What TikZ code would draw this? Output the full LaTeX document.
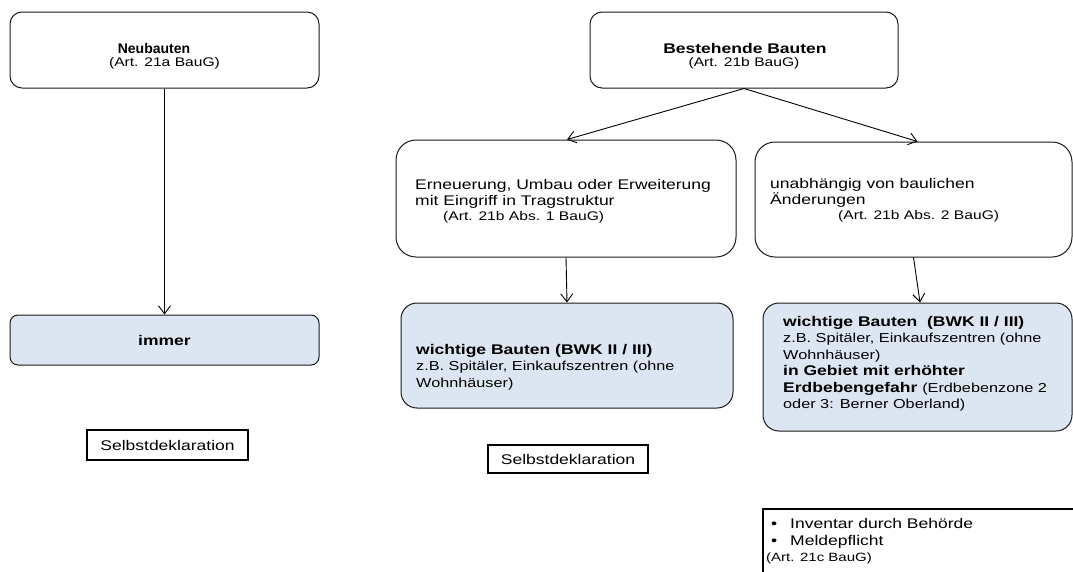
\documentclass[tikz,border=0pt]{standalone}
\usepackage{fontspec}
\setmainfont{Liberation Sans}[FakeStretch=1.25]
\usetikzlibrary{arrows.meta}
\definecolor{boxfill}{RGB}{220,230,242}
\definecolor{edge}{RGB}{25,25,25}
\newcommand\fa{\fontsize{14}{16.5}\selectfont}
\newcommand\fb{\fontsize{12.5}{14}\selectfont}
\newcommand\fc{\fontsize{13}{16}\selectfont}
\begin{document}
\begin{tikzpicture}[x=1pt,y=-1pt,
  box/.style={draw=edge, line width=1pt, inner sep=0pt},
  bluebox/.style={box, fill=boxfill},
  tagbox/.style={draw=black, line width=2.2pt, inner sep=0pt, font=\fa},
  txt/.style={inner sep=0pt, anchor=north west, align=left, font=\fa},
  ctxt/.style={inner sep=0pt, align=center, font=\fa},
  arr/.style={draw=black, line width=0.9pt, -{Straight Barb[length=8pt,width=12pt,line width=0.9pt]}}]
\useasboundingbox (0,0) rectangle (1073,571);
\clip (0,0) rectangle (1073,571);

% left column
\node[box, rounded corners=12pt, minimum width=309pt, minimum height=76pt] (neu) at (164.5,50) {};
\node[ctxt] (neut) at (154,48) {\scalebox{0.8}[1]{\textbf{Neubauten}}};
\node[ctxt, font=\fb] (neua) at (164.5,63) {(Art. 21a BauG)};
\node[bluebox, rounded corners=8pt, minimum width=309pt, minimum height=50pt] (immer) at (164.5,340) {};
\node[ctxt] (immert) at (164.5,340) {\textbf{immer}};
\node[tagbox, minimum width=161pt, minimum height=30pt] (sd1) at (167.5,445) {Selbstdeklaration};

% right part
\node[box, rounded corners=12pt, minimum width=308pt, minimum height=76pt] (best) at (744,50) {};
\node[ctxt] (bestt) at (745,48) {\textbf{Bestehende Bauten}};
\node[ctxt, font=\fb] (besta) at (744,63) {(Art. 21b BauG)};

\node[box, rounded corners=20pt, minimum width=340pt, minimum height=117pt] (ern) at (566,198.5) {};
\node[txt] (ernt) at (415,179) {Erneuerung, Umbau oder Erweiterung\\mit Eingriff in Tragstruktur\\[-1.5pt]\hspace*{28pt}{\fb (Art. 21b Abs. 1 BauG)}};

\node[box, rounded corners=20pt, minimum width=317pt, minimum height=115pt] (unab) at (913.5,199.5) {};
\node[txt] (unabt) at (770,178) {unabhängig von baulichen\\Änderungen\\[-1.5pt]\hspace*{68pt}{\fb (Art. 21b Abs. 2 BauG)}};

\node[bluebox, rounded corners=16pt, minimum width=332pt, minimum height=105pt] (wl) at (567,355.5) {};
\node[txt] (wlt) at (416,344) {\textbf{wichtige Bauten (BWK II / III)}\\{\fc z.B. Spitäler, Einkaufszentren (ohne}\\{\fc Wohnhäuser)}};

\node[bluebox, rounded corners=16pt, minimum width=309pt, minimum height=128pt] (wr) at (917.5,367) {};
\node[txt] (wrt) at (783,316) {\textbf{wichtige Bauten\ \ (BWK II / III)}\\{\fc z.B. Spitäler, Einkaufszentren (ohne}\\{\fc Wohnhäuser)}\\\textbf{in Gebiet mit erhöhter}\\\textbf{Erdbebengefahr} {\fc (Erdbebenzone 2}\\{\fc oder 3: Berner Oberland)}};

\node[tagbox, minimum width=160pt, minimum height=28pt] (sd2) at (568,459) {Selbstdeklaration};

\node[draw=black, line width=2.2pt, inner sep=0pt, minimum width=327pt, minimum height=81pt] (inv) at (926.5,549.5) {};
\node[txt] (invt) at (766,518.5) {\hspace*{5pt}\makebox[19pt][l]{•}Inventar durch Behörde\\\hspace*{5pt}\makebox[19pt][l]{•}Meldepflicht\\{\fontsize{12}{16}\selectfont (Art. 21c BauG)}};

% connectors
\draw[arr] (neu.south) -- (immer.north);
\draw[arr] (best.south) -- ([xshift=1pt]ern.north);
\draw[arr] (best.south) -- ([xshift=4pt]unab.north);
\draw[arr] (ern.south) -- (wl.north);
\draw[arr] (unab.south) -- ([xshift=2.5pt]wr.north);
\end{tikzpicture}
\end{document}
